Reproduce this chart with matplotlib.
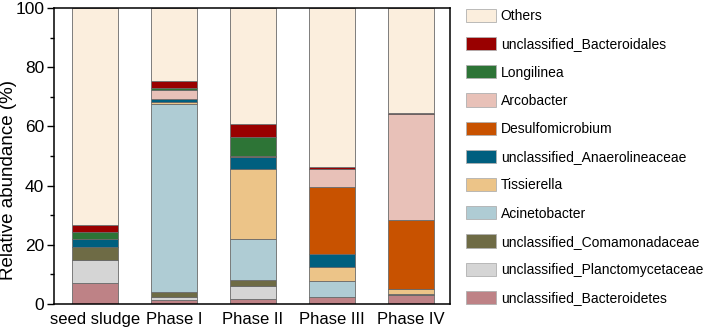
import numpy as np
import matplotlib
matplotlib.use('Agg')
import matplotlib.pyplot as plt
from matplotlib.patches import Patch
from matplotlib.ticker import MultipleLocator

plt.rcParams['font.family'] = ['Liberation Sans', 'DejaVu Sans']

samples = ['seed sludge', 'Phase I', 'Phase II', 'Phase III', 'Phase IV']

# taxa, bottom to top of the stack
taxa = [
    'unclassified_Bacteroidetes',
    'unclassified_Planctomycetaceae',
    'unclassified_Comamonadaceae',
    'Acinetobacter',
    'Tissierella',
    'unclassified_Anaerolineaceae',
    'Desulfomicrobium',
    'Arcobacter',
    'Longilinea',
    'unclassified_Bacteroidales',
    'Others',
]

bacteroidetes = [7.0, 1.2, 1.6, 2.2, 3.1]
planctomycetaceae = [7.9, 1.3, 4.3, 0.2, 0.0]
comamonadaceae = [4.5, 1.4, 2.2, 0.1, 0.2]
acinetobacter = [0.0, 63.6, 13.8, 5.1, 0.0]
tissierella = [0.0, 0.55, 23.6, 4.8, 1.7]
anaerolineaceae = [2.6, 1.1, 4.1, 4.5, 0.0]
desulfomicrobium = [0.0, 0.0, 0.5, 22.5, 23.4]
arcobacter = [0.0, 3.0, 0.0, 6.1, 35.7]
longilinea = [2.2, 0.9, 6.4, 0.0, 0.0]
bacteroidales = [2.3, 2.4, 4.3, 0.9, 0.4]
others = [73.5, 24.55, 39.2, 53.6, 35.5]

colors = ['#BE8286', '#D5D5D5', '#6E6B45', '#AFCCD4', '#ECC488', '#005F7F',
          '#C85200', '#E8C1B8', '#2D7436', '#990000', '#FBEEDD']

series = [bacteroidetes, planctomycetaceae, comamonadaceae, acinetobacter,
          tissierella, anaerolineaceae, desulfomicrobium, arcobacter,
          longilinea, bacteroidales, others]

fig = plt.figure(figsize=(7.06, 3.30), dpi=100)
ax = fig.add_axes([0.0765, 0.079, 0.561, 0.897])

x = np.arange(len(samples))
bottom = np.zeros(len(samples))
for vals, c in zip(series, colors):
    vals = np.array(vals)
    ax.bar(x, vals, width=0.58, bottom=bottom, color=c,
           edgecolor='#6a6a6a', linewidth=0.6)
    bottom += vals

ax.set_xlim(-0.52, 4.5)
ax.set_ylim(0, 100)
ax.yaxis.set_major_locator(MultipleLocator(20))
ax.yaxis.set_minor_locator(MultipleLocator(10))
ax.tick_params(axis='y', which='major', direction='out', length=5, width=1, labelsize=12.5, pad=2)
ax.tick_params(axis='y', which='minor', direction='out', length=3, width=1)
ax.tick_params(axis='x', length=0, labelsize=12, pad=6)
ax.set_xticks(x)
ax.set_xticklabels(samples)
ax.set_ylabel('Relative abundance (%)', fontsize=13.5)
ax.yaxis.set_label_coords(-0.094, 0.42)
for s in ax.spines.values():
    s.set_linewidth(1.1)

handles = [Patch(facecolor=c, edgecolor='#b0b0b0', linewidth=0.6, label=t)
           for t, c in zip(taxa, colors)][::-1]
fig.legend(handles=handles, loc='upper left', bbox_to_anchor=(466 / 706, 0.973),
           frameon=False, fontsize=10, handlelength=2.16, handleheight=1.08,
           labelspacing=1.0, handletextpad=0.34, borderaxespad=0, borderpad=0)

fig.savefig('out.png', dpi=100)
